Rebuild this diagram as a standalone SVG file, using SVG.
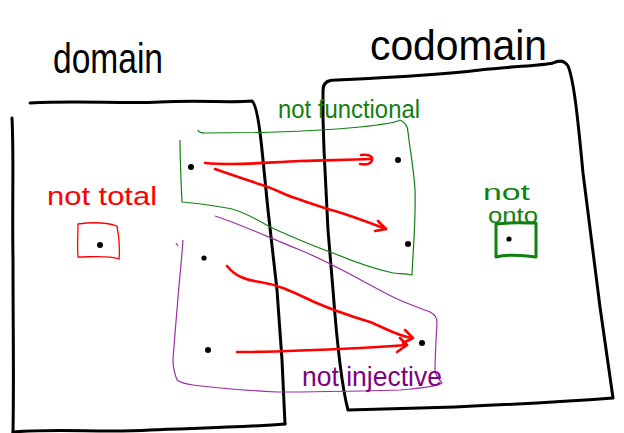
<svg xmlns="http://www.w3.org/2000/svg" width="624" height="433" viewBox="0 0 624 433">
<defs>
<style>
.ink{fill:none;stroke:#000;stroke-width:3;stroke-linecap:round;stroke-linejoin:round}
.grn{fill:none;stroke:#108010;stroke-width:1.2;stroke-linejoin:round}
.pur{fill:none;stroke:#9a2fa0;stroke-width:1.2;stroke-linejoin:round}
.arr{fill:none;stroke:#ff0000;stroke-width:2.6;stroke-linecap:round;stroke-linejoin:round}
.dot{fill:#000}
.t{font-family:"Liberation Sans",Arial,sans-serif}
.title{font-size:42px;fill:#000}
</style>
</defs>
<rect width="624" height="433" fill="#fff"/>

<g id="domain">
<path class="ink" d="M30,103 C80,100 120,104 160,102 C200,100 230,103 252,101 C256,104 259,120 262,150 L268,210 L277,290 L282,360 L285,424"/>
<path class="ink" d="M12,118 C14,160 12,200 13,260 C13,330 14,380 13,432"/>
<path class="ink" d="M13,432 C60,428 100,433 150,430 C200,428 250,427 285,424"/>
<text class="t title" x="53" y="73" textLength="110" lengthAdjust="spacingAndGlyphs">domain</text>
</g>

<g id="codomain">
<path class="ink" d="M323,118 L323,90 Q323,80 335,80 C380,78 430,76 480,70 C515,66 540,66 553,63 Q563,58 568,66 C574,80 578,120 583,173 L600,307 L613,398 C560,402 500,405 455,407 L348,410 C340,380 336,330 333,290 L328,230 L324,150 Z"/>
<text class="t title" x="370" y="60" textLength="177" lengthAdjust="spacingAndGlyphs">codomain</text>
</g>

<g id="not-functional">
<path class="grn" d="M198,130 Q199,133 205,133 C260,133 320,131 360,127 C380,125 395,123 400,120 C404,122 408,126 408,132 C410,150 414,170 415,190 C416,220 413,250 412,275 C405,273 398,274 393,273 C370,268 345,258 333,253 C310,245 290,236 270,227 C255,218 240,210 227,208 C210,205 195,203 182,202 C181,180 180,160 180,140"/>
<text class="t" x="278" y="118" font-size="26" fill="#108010" textLength="142" lengthAdjust="spacingAndGlyphs">not functional</text>
</g>

<g id="not-injective">
<path class="pur" d="M215,216 C240,224 270,238 300,250 C330,262 360,280 393,297 C405,303 420,308 430,312 C436,315 437,318 437,322 C436,340 435,360 435,372 C437,378 440,381 442,383 C438,386 425,388 400,390 C360,391 320,392 277,392 C240,390 215,388 193,385 C185,384 180,382 177,380 C174,372 173,366 173,360 C175,330 178,300 178,297 C180,275 182,255 183,240"/>
<path class="pur" d="M176,243 L178,246"/>
<text class="t" x="302" y="386" font-size="28" fill="#800080" textLength="140" lengthAdjust="spacingAndGlyphs">not injective</text>
</g>

<g id="not-total">
<path d="M78,224 C92,222 105,222 117,226 C119,236 120,248 119,259 C108,255 92,257 78,257 C77,246 78,236 78,224 Z" fill="none" stroke="#ff0000" stroke-width="1.3"/>
<text class="t" x="47" y="205" font-size="26" fill="#ff0000" textLength="110" lengthAdjust="spacingAndGlyphs">not total</text>
</g>

<g id="not-onto">
<path d="M496,224 C510,222 525,223 536,223 L536,257 C525,256 510,253 496,257 Z" fill="none" stroke="#108010" stroke-width="3" stroke-linejoin="round"/>
<text class="t" x="483" y="200" font-size="22" fill="#108010" textLength="47" lengthAdjust="spacingAndGlyphs">not</text>
<text class="t" x="488" y="223" font-size="22" fill="#108010" textLength="50" lengthAdjust="spacingAndGlyphs">onto</text>
</g>

<g id="elements">
<circle class="dot" cx="191" cy="167" r="3"/>
<circle class="dot" cx="204" cy="258" r="2.6"/>
<circle class="dot" cx="208" cy="350" r="3"/>
<circle class="dot" cx="398" cy="160" r="3"/>
<circle class="dot" cx="408" cy="244" r="3"/>
<circle class="dot" cx="422" cy="343" r="3"/>
<circle class="dot" cx="100" cy="245" r="3"/>
<circle class="dot" cx="509" cy="239" r="2.6"/>
</g>

<g id="connectors">
<path class="arr" d="M205,163 C240,166 270,162 300,161 C330,160 350,160 370,159"/>
<path class="arr" d="M361,155 C368,154 373,156 372,160 C371,164 366,165 360,164"/>
<path class="arr" d="M215,169 C235,176 250,181 262,185 C275,189 285,195 295,198 C310,203 320,207 335,211 C355,217 370,223 386,229"/>
<path class="arr" d="M378,221 L386,229 L375,231"/>
<path class="arr" d="M227,266 C235,276 245,280 260,282 C280,285 295,293 312,301 C330,309 350,316 370,322 C385,328 398,336 412,338"/>
<path class="arr" d="M405,330 L413,338 L403,343"/>
<path class="arr" d="M237,352 C280,352 320,350 360,348 C380,347 395,346 407,345"/>
<path class="arr" d="M400,338 L407,345 L397,352"/>
</g>
</svg>
